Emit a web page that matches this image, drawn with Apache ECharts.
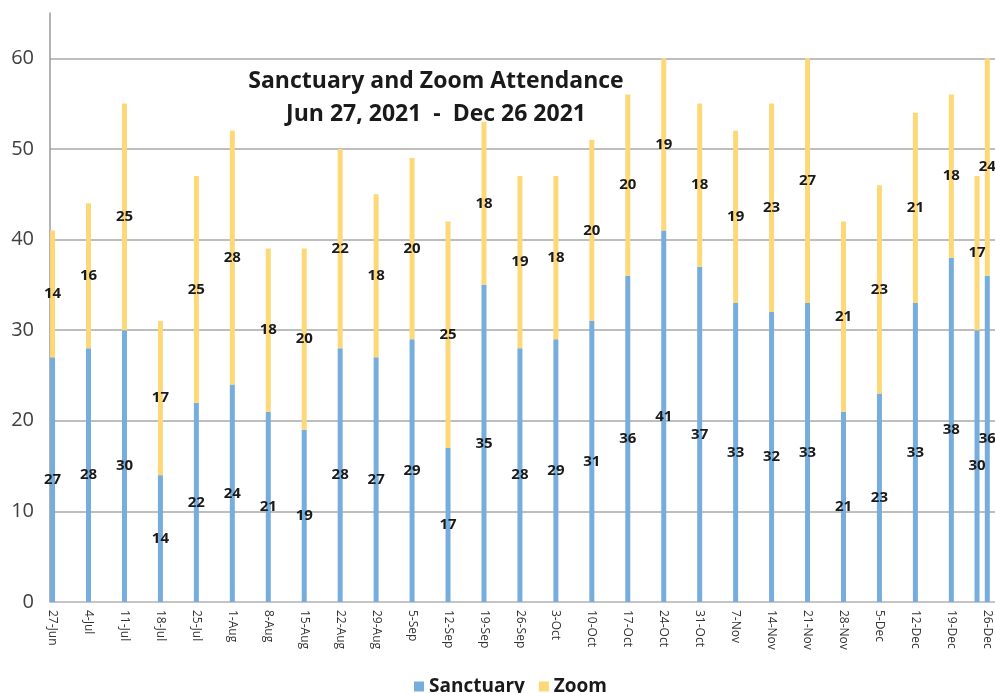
<!DOCTYPE html>
<html>
<head>
<meta charset="utf-8">
<script src="https://cdn.jsdelivr.net/npm/echarts@6/dist/echarts.min.js"></script>
<style>
  html, body { margin: 0; padding: 0; background: #fff; }
  #chart { width: 995px; height: 693px; }
</style>
</head>
<body>
<div id="chart"></div>
<script>
// Service dates (2021)
const dates = ['2021-06-27','2021-07-04','2021-07-11','2021-07-18','2021-07-25','2021-08-01','2021-08-08','2021-08-15','2021-08-22','2021-08-29','2021-09-05','2021-09-12','2021-09-19','2021-09-26','2021-10-03','2021-10-10','2021-10-17','2021-10-24','2021-10-31','2021-11-07','2021-11-14','2021-11-21','2021-11-28','2021-12-05','2021-12-12','2021-12-19','2021-12-24','2021-12-26'];
// Axis tick labels (weekly dates shown on the date axis)
const tickDates = ['2021-06-27','2021-07-04','2021-07-11','2021-07-18','2021-07-25','2021-08-01','2021-08-08','2021-08-15','2021-08-22','2021-08-29','2021-09-05','2021-09-12','2021-09-19','2021-09-26','2021-10-03','2021-10-10','2021-10-17','2021-10-24','2021-10-31','2021-11-07','2021-11-14','2021-11-21','2021-11-28','2021-12-05','2021-12-12','2021-12-19','2021-12-26'];
const tickLabels = ['27-Jun','4-Jul','11-Jul','18-Jul','25-Jul','1-Aug','8-Aug','15-Aug','22-Aug','29-Aug','5-Sep','12-Sep','19-Sep','26-Sep','3-Oct','10-Oct','17-Oct','24-Oct','31-Oct','7-Nov','14-Nov','21-Nov','28-Nov','5-Dec','12-Dec','19-Dec','26-Dec'];
const sanctuary = [27,28,30,14,22,24,21,19,28,27,29,17,35,28,29,31,36,41,37,33,32,33,21,23,33,38,30,36];
const zoom      = [14,16,25,17,25,28,18,20,22,18,20,25,18,19,18,20,20,19,18,19,23,27,21,23,21,18,17,24];
const yTicks = [0,10,20,30,40,50,60];

// Date axis: one category per calendar day, so bars sit at their true dates
const DAY = 86400000;
const startT = Date.parse(dates[0] + 'T00:00:00Z');
const AXIS_DAYS = 184;
const allDays = [];
for (let i = 0; i < AXIS_DAYS; i++) allDays.push(new Date(startT + i * DAY).toISOString().slice(0, 10));
const labelByDate = {};
tickDates.forEach((d, i) => { labelByDate[d] = tickLabels[i]; });
const placeOnDays = vals => allDays.map(d => { const k = dates.indexOf(d); return k >= 0 ? vals[k] : null; });

const chart = echarts.init(document.getElementById('chart'));
const labelStyle = {
  show: true,
  position: 'inside',
  color: '#1a1a1a',
  fontWeight: 'bold',
  fontSize: 15,
  fontFamily: 'Open Sans'
};
const gridColors = yTicks.map(() => '#a8a8a8').concat(['rgba(0,0,0,0)']);

chart.setOption({
  animation: false,
  backgroundColor: '#ffffff',
  title: {
    text: 'Sanctuary and Zoom Attendance\nJun 27, 2021  -  Dec 26 2021',
    left: 431,
    textAlign: 'center',
    top: 60,
    textStyle: {
      fontFamily: 'Open Sans',
      fontWeight: 'bold',
      fontSize: 23,
      lineHeight: 33,
      color: '#1a1a1a'
    }
  },
  legend: {
    data: ['Sanctuary', 'Zoom'],
    left: 409,
    top: 672,
    itemWidth: 10,
    itemHeight: 10,
    itemGap: 14,
    icon: 'rect',
    textStyle: { fontFamily: 'Open Sans', fontWeight: 'bold', fontSize: 19, color: '#1a1a1a' }
  },
  grid: { left: 50, right: -2, top: 13, bottom: 91, containLabel: false },
  xAxis: {
    type: 'category',
    data: allDays,
    boundaryGap: true,
    axisLine: { show: true, lineStyle: { color: '#c8c8c8', width: 1.5 } },
    axisTick: { show: false },
    splitLine: { show: false },
    axisLabel: {
      interval: (idx, val) => !!labelByDate[val],
      rotate: -90,
      fontSize: 12,
      fontFamily: 'Open Sans',
      color: '#333',
      margin: 8,
      formatter: v => labelByDate[v] || ''
    }
  },
  yAxis: {
    type: 'value',
    min: 0,
    max: 65,
    interval: 10,
    axisLine: { show: true, lineStyle: { color: '#9a9a9a', width: 1.5 } },
    axisTick: { show: false },
    splitLine: { show: true, lineStyle: { color: gridColors, width: 1.5 } },
    axisLabel: {
      fontSize: 20,
      fontFamily: 'Open Sans',
      color: '#404040',
      margin: 16,
      formatter: v => (yTicks.indexOf(v) >= 0 ? String(v) : '')
    }
  },
  series: [
    {
      name: 'Sanctuary',
      type: 'bar',
      stack: 'total',
      barWidth: 5,
      itemStyle: { color: '#76addc' },
      label: labelStyle,
      data: placeOnDays(sanctuary)
    },
    {
      name: 'Zoom',
      type: 'bar',
      stack: 'total',
      barWidth: 5,
      itemStyle: { color: '#fdd879' },
      label: labelStyle,
      data: placeOnDays(zoom)
    }
  ]
});
</script>
</body>
</html>
